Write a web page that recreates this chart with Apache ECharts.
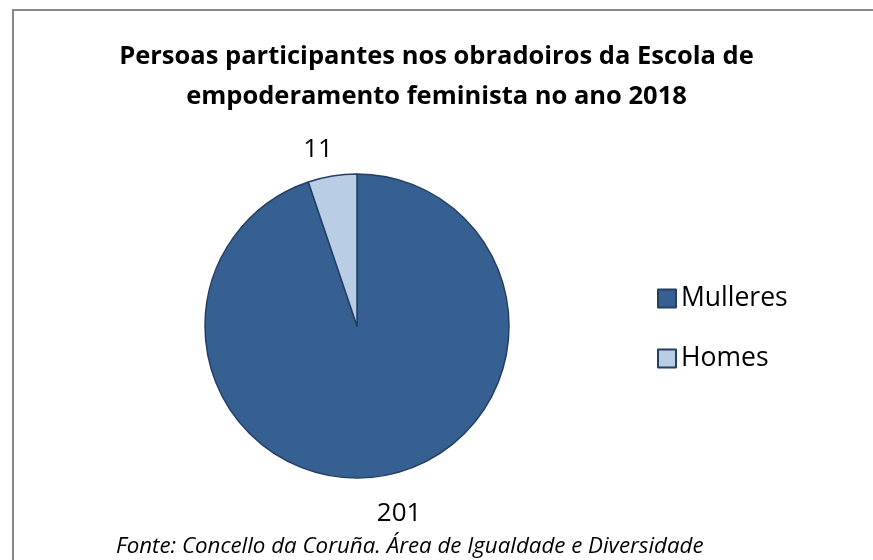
<!DOCTYPE html>
<html>
<head>
<meta charset="utf-8">
<script src="https://cdn.jsdelivr.net/npm/echarts@6/dist/echarts.min.js"></script>
<style>
  html, body { margin: 0; padding: 0; background: #fff; }
  #chart { width: 873px; height: 560px; }
</style>
</head>
<body>
<div id="chart"></div>
<script>
const categories = ['Mulleres', 'Homes']
const values = [201, 11]
const colors = ['#376092', '#b9cde5']

const chart = echarts.init(document.getElementById('chart'))
const font = '"Open Sans", sans-serif'

// label placement per slice (excel puts them at slightly different distances)
const labelStyle = [
  { line: 38, dist: -11 },
  { line: 27, dist: -5 }
]

const option = {
  backgroundColor: '#fff',
  color: colors,
  title: [
    {
      text: 'Persoas participantes nos obradoiros da Escola de\nempoderamento feminista no ano 2018',
      left: 'center',
      top: 32,
      textStyle: {
        fontFamily: font,
        fontSize: 25.5,
        fontWeight: 'bold',
        color: '#000',
        lineHeight: 40
      }
    },
    {
      text: 'Fonte: Concello da Coruña. Área de Igualdade e Diversidade',
      left: 111,
      top: 531,
      textStyle: {
        fontFamily: font,
        fontSize: 22.3,
        fontStyle: 'italic',
        fontWeight: 'normal',
        color: '#000'
      }
    }
  ],
  legend: {
    orient: 'vertical',
    left: 657,
    top: 285,
    padding: 0,
    itemWidth: 18,
    itemHeight: 18,
    itemGap: 33,
    icon: 'rect',
    textStyle: {
      fontFamily: font,
      fontSize: 26.5,
      lineHeight: 24,
      color: '#000'
    },
    data: categories
  },
  graphic: [
    {
      type: 'rect',
      shape: { x: 13, y: 10, width: 900, height: 600 },
      style: { fill: 'none', stroke: '#888', lineWidth: 2 },
      silent: true
    }
  ],
  series: [
    {
      type: 'pie',
      center: [357, 326],
      radius: 152,
      startAngle: 90,
      clockwise: true,
      animation: false,
      label: {
        show: true,
        position: 'outside',
        formatter: '{c}',
        fontFamily: font,
        fontSize: 26,
        color: '#000'
      },
      labelLine: { show: false, length2: 0 },
      itemStyle: { borderColor: '#243f60', borderWidth: 1.5 },
      emphasis: { disabled: true },
      data: categories.map((c, i) => ({
        name: c,
        value: values[i],
        itemStyle: { color: colors[i] },
        label: { distanceToLabelLine: labelStyle[i].dist },
        labelLine: { length: labelStyle[i].line }
      }))
    }
  ]
}
chart.setOption(option)
</script>
</body>
</html>
